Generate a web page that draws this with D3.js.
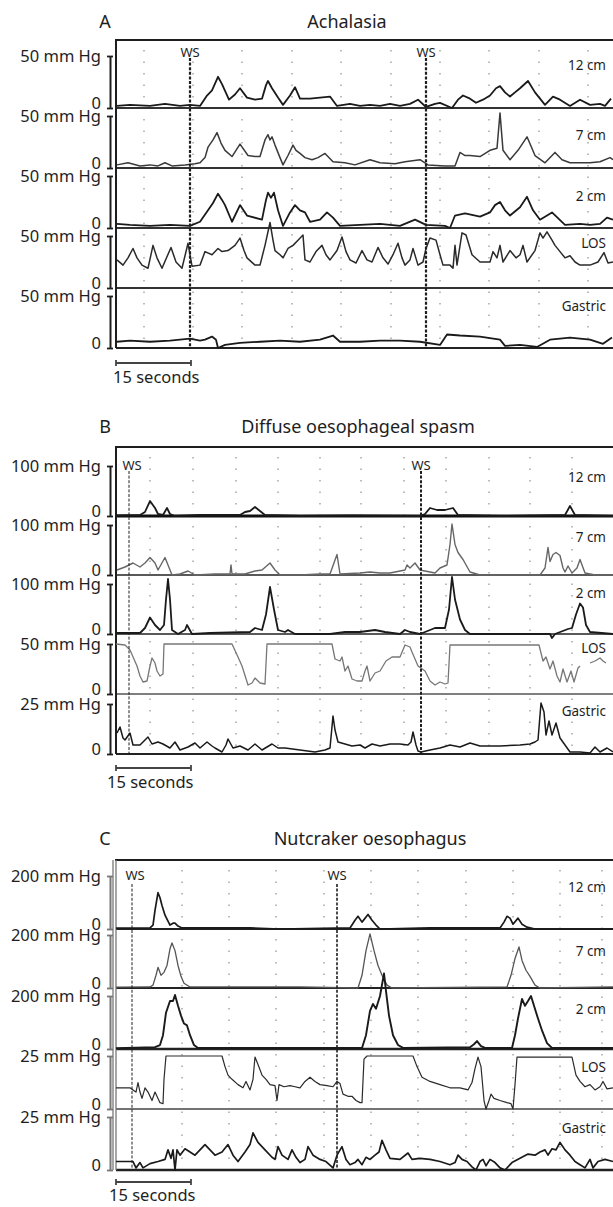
<!DOCTYPE html>
<html lang="en">
<head>
<meta charset="UTF-8">
<title>Oesophageal manometry</title>
<script src="https://cdn.jsdelivr.net/npm/d3@7"></script>
<style>
  body { margin: 0; background: #fff; }
  svg { display: block; font-family: "Noto Sans", sans-serif; }
</style>
</head>
<body>
<svg id="chart"></svg>
<script>
// ---- data: time in seconds, pressure in mm Hg ----
const panelKeys = ['A', 'B', 'C'];
const panelTitles = ['Achalasia', 'Diffuse oesophageal spasm', 'Nutcraker oesophagus'];
const channelLabels = ['12 cm', '7 cm', '2 cm', 'LOS', 'Gastric'];
const fullScaleA = [50, 50, 50, 50, 50];
const fullScaleB = [100, 100, 100, 50, 25];
const fullScaleC = [200, 200, 200, 25, 25];
const swallowA = [14.8, 62];
const swallowB = [2.6, 61];
const swallowC = [3.2, 44.2];
const gridA = [5.6, 15.4, 25.2, 35.2, 45, 55, 64.8, 74.6, 84.6, 94.4];
const gridB = [6.8, 15.4, 24, 32.4, 40.8, 49, 57.6, 66, 74.6, 82.8, 91.2];
const gridC = [13.2, 22.6, 32, 41.6, 51, 60.4, 70, 79.4, 88.8, 97.2];
const scaleBarSeconds = 15;

// A: achalasia
const a12 = [[0.2,2],[2.8,3],[6.8,2],[9.8,4],[12.8,2],[14.8,3],[16.8,2],[18.2,12],[19.2,17],[20.4,30],[21.2,23],[22.6,8],[23.8,13],[24.8,19],[26.2,10],[27.8,8],[29.2,9],[30,22],[30.4,26],[31.2,19],[32.4,10],[33.4,3],[34.8,12],[35.8,20],[36.8,9],[38.8,9],[40.8,10],[42.8,11],[44.2,2],[46.8,4],[48.8,2],[50.8,3],[52.8,2],[54.8,4],[56.8,2],[58.8,4],[60.4,8],[62,1],[63.8,4],[64.8,5],[67.2,0],[68.4,8],[69.4,12],[70.8,9],[72,5],[73.4,8],[74.8,12],[76,19],[76.8,21],[77.8,15],[78.8,11],[79.8,15],[80.8,19],[82.4,26],[83.8,15],[85.8,3],[87.4,11],[88.8,8],[90.8,2],[92.8,8],[94.8,3],[96.8,4],[97.8,2],[99,9]];
const a7 = [[0.2,3],[2.4,5],[4.8,2],[6.8,3],[8.4,2],[9.8,5],[11.2,2],[13.8,3],[15.8,4],[16.8,5],[17.8,10],[18.4,20],[19.4,27],[20.2,34],[21,24],[21.8,17],[23.2,11],[24.8,23],[26.4,12],[27.8,11],[28.8,11],[29.8,27],[30.4,32],[30.8,27],[31.2,30],[31.8,22],[32.8,10],[33.4,3],[34.4,12],[35.4,22],[36,17],[36.8,14],[37.8,10],[39.2,8],[40.4,10],[41.8,14],[43.4,6],[45.8,5],[47.8,3],[50.8,8],[52.8,5],[55.8,4],[57.8,6],[60.8,8],[62.4,3],[65.8,2],[67.8,2],[68.8,15],[69.8,12],[70.8,12],[72.8,11],[74.8,17],[76.2,19],[76.8,53],[77.4,17],[78.8,8],[80.4,17],[82.2,30],[83.8,12],[85.8,5],[87.8,15],[89.2,8],[90.8,5],[94.8,5],[96.8,6],[98.8,10],[99.4,8]];
const a2 = [[0.2,4],[2.8,3],[6.8,2],[10.8,3],[14.8,2],[16.8,6],[18.4,17],[19.4,24],[20.4,33],[21.2,27],[21.8,22],[23.2,6],[24.8,22],[26.2,12],[29.2,8],[30,27],[30.4,34],[31,29],[31.6,34],[32.4,17],[33.4,2],[34.8,15],[35.8,22],[36.8,17],[37.8,15],[38.8,6],[40.8,8],[42.2,15],[43.4,10],[44.8,2],[48.8,3],[52.8,4],[56.8,2],[59.8,8],[62,3],[65.8,2],[66.8,0],[67.8,12],[69.8,14],[72.8,11],[74.8,15],[75.8,22],[76.8,25],[77.8,17],[78.8,12],[80.8,20],[82.2,30],[83.4,17],[84.8,8],[87.2,15],[89.8,3],[92.8,4],[94.8,3],[96.8,4],[98.2,10],[99.4,8]];
const aLos = [[0.2,27],[1.4,22],[2.4,29],[3.4,38],[4.2,29],[5.2,22],[6.4,19],[7.4,41],[8.2,29],[9.2,19],[11,39],[12,25],[13.2,19],[14.4,43],[15.2,21],[16.8,22],[17.8,35],[19.2,32],[20.4,38],[21.2,35],[22.4,36],[23.8,41],[24.8,48],[25.6,36],[26.2,29],[27.8,22],[28.8,22],[29.8,41],[30.8,63],[31.4,46],[31.8,36],[32.8,32],[33.4,29],[34.4,38],[35.4,41],[36.4,46],[37.4,51],[37.8,27],[38.8,25],[40,35],[41.2,41],[42,32],[42.8,27],[44.2,36],[45.2,49],[46,35],[46.8,27],[48,24],[49.2,36],[50.2,27],[51.2,25],[52.4,39],[53.4,29],[54.4,23],[55.4,32],[56.4,43],[57.2,29],[57.8,22],[58.8,27],[59.4,38],[60.4,22],[61.4,25],[62,38],[62.8,48],[64,46],[64.8,32],[65.4,22],[66.8,22],[67.4,19],[67.8,41],[68.2,22],[69.2,53],[70,51],[71.2,32],[72.8,25],[74.8,25],[75.4,35],[76.2,29],[76.8,41],[77.4,25],[78.8,36],[80,29],[80.8,32],[81.4,41],[82.2,25],[83.8,36],[84.8,53],[85.4,48],[86.2,54],[87.2,46],[87.8,41],[88.8,35],[89.8,29],[90.8,31],[91.8,25],[92.8,22],[94.8,22],[96.4,25],[97.6,34],[98.4,24],[99.4,25]];
const aGas = [[0.2,6],[2.8,7],[6.8,6],[10.8,7],[14.8,9],[16.8,7],[17.8,8],[19.2,11],[20,8],[20.4,0],[21.8,3],[24.8,5],[28.8,6],[32.8,7],[36.8,6],[40.8,8],[43.4,12],[44.8,6],[48.8,6],[52.8,7],[56.8,7],[60.8,6],[64.8,3],[66.2,13],[68.8,12],[72.8,11],[76.8,8],[77.8,2],[80.8,3],[84.2,1],[86.8,8],[90.8,10],[94.8,8],[97.4,4],[99.2,10]];

// B: diffuse oesophageal spasm
const b12 = [[0,1],[4.8,2],[5.8,8],[6.8,30],[7.8,16],[8.4,4],[9.4,2],[10.2,16],[10.8,4],[11.8,0],[16.8,2],[24.8,2],[25.8,8],[26.8,10],[27.8,18],[28.8,10],[29.8,2],[36.8,0],[46.8,1],[60.8,0],[61.8,4],[62.8,16],[64.2,12],[65.8,12],[67.4,16],[68.4,2],[76.8,0],[89.8,2],[90.8,20],[91.8,2],[99.4,0]];
const b7 = [[0.2,10],[1.8,16],[3.4,24],[4.8,16],[5.8,24],[6.8,35],[7.8,24],[8.4,10],[9.8,35],[10.4,20],[11.2,0],[12.8,2],[14.4,8],[15.8,0],[19.8,2],[22.8,2],[23,20],[23.2,2],[25.8,2],[27.8,8],[29.2,10],[30.8,24],[31.8,10],[32.8,0],[36.8,0],[40.8,2],[42.8,2],[44.2,41],[44.8,2],[48.8,4],[50.8,6],[52.8,4],[54.8,4],[57.8,10],[58.2,20],[58.8,14],[59.8,24],[60.8,10],[63.8,4],[64.8,14],[66.2,20],[66.8,61],[67.2,102],[67.8,61],[68.4,45],[69.4,31],[70.8,6],[72.8,0],[84.8,0],[85.8,14],[86.4,55],[86.8,27],[87.4,41],[88,45],[88.8,39],[89.4,14],[89.8,6],[90.4,18],[91.2,4],[92.2,14],[92.8,31],[93.8,4],[95.8,0],[99.4,0]];
const b2 = [[0.2,2],[4.8,2],[5.8,12],[6.8,33],[7.8,18],[8.8,8],[9.6,18],[10,69],[10.4,110],[10.8,69],[11.2,8],[12.4,0],[13.8,8],[14.2,18],[15.2,0],[18.8,2],[26.8,4],[27.8,12],[29.2,8],[30,39],[30.8,94],[31.6,49],[32.4,8],[33.8,4],[34.4,8],[35.8,0],[42.8,0],[45.8,4],[48.8,4],[51.8,8],[53.8,4],[56.8,0],[57.8,8],[58.8,4],[60.8,0],[63.8,12],[65.8,12],[66.6,49],[67.2,114],[67.8,69],[68.8,29],[69.8,8],[70.8,0],[86.8,0],[87.2,-8],[87.8,0],[90.4,10],[91.2,12],[92,39],[92.8,61],[93.4,53],[94,18],[94.8,4],[99.4,0]];
const bLos = [[0,50],[1.8,49],[2.8,44],[4.2,28],[4.8,18],[5.4,12],[6.2,13],[6.8,28],[7.2,36],[7.8,31],[8.2,23],[8.8,18],[9.4,20],[9.6,50],[23.2,50],[24.4,37],[25.2,28],[26.4,9],[27.2,11],[27.8,16],[28.8,11],[29.8,10],[30.2,50],[43.2,50],[43.8,35],[44.8,33],[45.2,37],[45.8,23],[46.4,28],[47.2,15],[48.2,13],[49.2,13],[49.8,23],[50.2,28],[50.8,13],[51.8,21],[52.8,23],[54,33],[55.2,37],[56.8,37],[57.8,49],[58.8,47],[59.2,42],[59.8,35],[60.4,28],[61.8,23],[62.8,13],[63.8,9],[64.8,12],[65.8,10],[66.4,11],[66.8,49],[84.6,49],[85.4,33],[86,37],[86.8,25],[87.4,33],[88.2,18],[88.8,12],[89.4,25],[90.2,12],[91,23],[91.6,12],[92.4,26],[92.8,28],[93.6,null],[94.8,31],[95.8,33],[96.8,36],[97.4,33],[98,31]];
const bGas = [[0.2,10.5],[0.8,13.5],[1.4,8],[1.8,7],[2.8,10.5],[3.4,4.5],[4.8,4.5],[6.4,8.5],[7.2,5],[8.4,6],[9.4,5],[10.8,3],[11.8,6],[12.8,2],[14.4,3.5],[15.8,5.5],[16.8,3],[18.2,6],[19.2,4],[19.8,3],[21.2,1],[22,4.5],[22.4,7.5],[23.4,3],[24.8,4],[26.4,2],[27.8,5],[29.2,2],[31.2,5],[32.4,3],[33.8,3],[36.8,2],[39.8,1],[41.8,2],[42.8,3],[43.4,19],[43.8,12],[44.4,6],[45.8,5],[47.2,4],[48.8,4.5],[49.8,3],[51.2,5],[52.8,4],[54.8,5],[56.8,5],[58.4,4.5],[59,6],[59.4,11],[60,4.5],[60.4,1.5],[61,1],[62.8,2],[64.8,3],[66.8,4.5],[68.8,3.5],[70.8,5.5],[72.8,4],[76.8,4],[80.8,4.5],[82.8,5],[83.8,6],[84.4,7],[85,25.5],[85.6,21],[86,9.5],[86.6,16.5],[87.2,9.5],[88,15.5],[88.8,8],[89.8,4.5],[90.8,1],[92.8,1],[94.8,0.5],[95.8,3.5],[96.8,1],[98.2,3],[99.4,1]];

// C: nutcracker oesophagus
const c12 = [[0,3],[6.8,4],[7.4,15],[7.8,70],[8.4,137],[8.8,118],[9.2,89],[9.8,52],[10.8,15],[11.4,22],[11.8,22],[12.4,11],[13.2,4],[16.8,4],[26.8,4],[32.8,0],[46.8,4],[47.8,33],[48.4,48],[49.2,26],[50.4,55],[51.2,33],[52,15],[52.8,0],[62.8,4],[76.8,4],[77.6,26],[78.2,48],[78.8,41],[79.4,18],[80.4,41],[81.2,18],[82.2,7],[83.8,0],[99.4,0]];
const c7 = [[0,3],[6.8,4],[7.4,11],[8,48],[8.4,78],[9,48],[9.6,59],[10.2,85],[10.8,148],[11.2,170],[11.8,141],[12.4,85],[13,44],[13.6,18],[14.8,4],[36.8,4],[48.4,0],[49.2,48],[50,141],[50.8,204],[51.6,141],[52.4,85],[53.2,48],[54.2,11],[55.2,0],[78.2,4],[79,48],[79.8,111],[80.6,155],[81.2,104],[82,67],[82.8,44],[83.8,11],[84.8,0],[99.4,4]];
const c2 = [[0,3],[7.8,7],[8.8,15],[9.4,52],[10,137],[10.8,181],[11.4,181],[11.8,204],[12.4,163],[13,126],[13.6,96],[14.2,89],[14.8,52],[15.6,15],[16.4,4],[36.8,4],[49.2,4],[50,52],[50.8,144],[51.4,170],[52,152],[52.8,200],[53.6,285],[54,218],[54.6,126],[55.4,52],[56.4,15],[57.4,4],[70.8,7],[71.6,18],[72.2,30],[73,11],[73.8,4],[79.2,4],[79.8,52],[80.4,115],[81.2,189],[81.8,163],[82.4,181],[83,200],[83.6,163],[84.4,115],[85.2,70],[86.2,22],[87.2,4],[99.4,4]];
const cLos = [[0,10],[2.8,10],[3.4,9],[4,8],[4.4,12.5],[4.8,8],[5.2,5],[5.8,10],[6.4,8],[7.2,4],[7.8,8],[8.4,5],[8.8,3],[9.4,2.5],[9.6,14],[10,25],[21.2,25],[21.8,20],[22.4,16],[23.2,14],[24.4,11.5],[25.4,10],[26,13],[26.8,9],[27.4,14],[27.8,24.5],[28.4,21],[29.2,16],[30,14],[30.8,11.5],[31.8,11],[32.2,4],[32.6,11.5],[33.6,10.5],[34.8,11],[35.8,10.5],[36.8,10],[37.8,13],[38.8,15],[39.8,13],[40.8,11.5],[42.2,11],[43.4,10.5],[44.2,13],[44.8,12],[45.4,7],[46.4,6],[47.2,6],[48,4],[48.8,3],[49.2,3],[49.6,23.5],[50.2,25],[59.4,25],[60.2,20],[61.2,15],[62.8,13],[64.8,11.5],[66.8,10],[68.8,10],[70.4,9],[71.2,12.5],[71.8,19],[72.4,24.5],[73,20],[73.6,4],[74,0],[74.6,4],[75,7],[75.6,5],[76.8,4],[78.2,3],[79,2.5],[79.4,0],[79.8,11.5],[80.2,24.5],[91.2,24.5],[92,16],[92.8,13],[93.8,10.5],[94.8,11.5],[95.8,9],[96.8,10.5],[97.4,13],[98.2,9.5],[99.4,10]];
const cGas = [[0,4],[3.4,4],[4,1],[4.8,3.5],[5.4,1],[6.8,3],[8.4,4],[9.8,5],[10.4,9.5],[11,5.5],[11.4,9.5],[11.8,0],[12.2,9.5],[12.8,7],[13.8,10],[14.8,8.5],[15.8,7],[16.8,9.5],[17.8,12],[18.8,9.5],[19.8,7],[21.2,8.5],[22.4,12],[23.4,7],[24.4,4],[25.8,8.5],[26.8,12],[27.4,17.5],[28.4,13],[29.8,9.5],[31.2,6],[31.8,5],[32.4,11],[33.2,7],[34.4,5],[35.2,9.5],[36,6],[36.8,3.5],[37.8,5],[38.4,11],[39.4,7],[40.8,5],[42,4],[43.4,1],[44.2,7],[45.2,11],[46,5],[46.8,2.5],[47.8,3.5],[48.4,5],[49.2,2.5],[50,6],[50.8,5],[51.8,7],[52.6,8.5],[53.2,14],[54,9.5],[54.8,5.5],[56.8,5],[58.4,8],[59.2,5],[60.8,5.5],[62.8,5],[64.8,4],[66.8,2.5],[67.8,3.5],[68.4,7],[69.2,5],[70.2,4],[71.2,1.5],[72,0],[72.8,4],[73.4,5],[74,2],[74.8,5],[75.8,3.5],[76.8,1],[77.8,0],[79.2,3.5],[80.8,5.5],[82.4,7.5],[83.8,7],[84.8,8.5],[85.8,9.5],[86.4,7],[87.2,10],[88,9.5],[88.8,13],[89.8,9.5],[90.8,7],[91.8,4],[92.8,2.5],[93.8,1],[94.8,5],[95.4,1],[96.4,4],[97.8,5],[99.4,4]];

// ---- layout ----
const width = 613, height = 1207;
const ink = '#1e1e1e';
const svg = d3.select('#chart').attr('width', width).attr('height', height);
const x = d3.scaleLinear().domain([0, 100]).range([116, 616]);

const panels = [
  { key: panelKeys[0], title: panelTitles[0], titleX: 347, titleY: 28, top: 40,
    bases: [108, 168, 228, 288, 348], h: 52, full: fullScaleA,
    traces: [a12, a7, a2, aLos, aGas], ws: swallowA, grid: gridA,
    labelUp: [38, 28, 27, 40, 37], wsTop: 58, wsLabelY: 57, wsShift: [0, 0],
    wsWidth: [2.2, 2.2], traceColor: ['#1a1a1a', '#3a3a3a', '#1a1a1a', '#2a2a2a', '#1a1a1a'],
    traceWidth: [1.8, 1.5, 1.8, 1.5, 1.8], baseWidth: [2, 2, 2, 2, 2.2],
    baseColor: ['#333', '#333', '#333', '#333', '#222'], axisColor: ink,
    barY: 363, textY: 383, textX: 113 },
  { key: panelKeys[1], title: panelTitles[1], titleX: 358, titleY: 433, top: 447,
    bases: [516, 575, 634, 694, 754], h: 50, full: fullScaleB,
    traces: [b12, b7, b2, bLos, bGas], ws: swallowB, grid: gridB,
    labelUp: [34, 33, 36, 41, 38], wsTop: 471, wsLabelY: 470, wsShift: [3, 0],
    wsWidth: [1, 2], traceColor: ['#1a1a1a', '#666', '#1a1a1a', '#777', '#1a1a1a'],
    traceWidth: [1.8, 1.4, 1.8, 1.3, 1.5], baseWidth: [3, 1.5, 1.5, 1.5, 2.2],
    baseColor: ['#111', '#222', '#222', '#555', '#222'], axisColor: ink,
    barY: 768, textY: 788, textX: 107 },
  { key: panelKeys[2], title: panelTitles[2], titleX: 370, titleY: 845, top: 860,
    bases: [929, 988, 1049, 1109, 1170], h: 53, full: fullScaleC,
    traces: [c12, c7, c2, cLos, cGas], ws: swallowC, grid: gridC,
    labelUp: [37, 32, 35, 37, 37], wsTop: 884, wsLabelY: 880, wsShift: [3, 0],
    wsWidth: [1, 1.6], traceColor: ['#1a1a1a', '#555', '#1a1a1a', '#2a2a2a', '#1a1a1a'],
    traceWidth: [1.7, 1.3, 1.9, 1.2, 1.7], baseWidth: [2, 2, 2.4, 1.5, 2.4],
    baseColor: ['#222', '#222', '#222', '#444', '#222'], axisColor: '#777',
    barY: 1182, textY: 1201, textX: 109 }
];

panels.forEach(p => {
  const g = svg.append('g');
  const bottom = p.bases[p.bases.length - 1];

  g.append('text').attr('x', 105).attr('y', p.titleY).attr('text-anchor', 'middle')
    .attr('font-size', 18).attr('fill', ink).text(p.key);
  g.append('text').attr('x', p.titleX).attr('y', p.titleY).attr('text-anchor', 'middle')
    .attr('font-size', 18).attr('fill', ink).text(p.title);

  // dotted time grid
  g.selectAll('line.grid').data(p.grid).join('line').attr('class', 'grid')
    .attr('x1', d => x(d)).attr('x2', d => x(d))
    .attr('y1', p.top + 10).attr('y2', bottom)
    .attr('stroke', '#999').attr('stroke-width', 1.3).attr('stroke-dasharray', '1.5,10');

  // channel baselines
  p.bases.forEach((b, i) => {
    g.append('line').attr('x1', x(0)).attr('x2', width).attr('y1', b).attr('y2', b)
      .attr('stroke', p.baseColor[i]).attr('stroke-width', p.baseWidth[i]);
  });

  // frame
  g.append('line').attr('x1', x(0) - 1).attr('x2', width).attr('y1', p.top).attr('y2', p.top)
    .attr('stroke', ink).attr('stroke-width', 2.2);
  if (p.key === 'C') {
    [x(0) - 3, x(0)].forEach(xx => g.append('line').attr('x1', xx).attr('x2', xx)
      .attr('y1', p.top).attr('y2', bottom).attr('stroke', '#777').attr('stroke-width', 1.3));
  } else {
    g.append('line').attr('x1', x(0)).attr('x2', x(0)).attr('y1', p.top).attr('y2', bottom)
      .attr('stroke', ink).attr('stroke-width', 2);
  }

  // traces, pressure brackets and channel labels
  p.traces.forEach((tr, i) => {
    const y = d3.scaleLinear().domain([0, p.full[i]]).range([p.bases[i], p.bases[i] - p.h]);
    const line = d3.line().defined(d => d[1] != null).x(d => x(d[0])).y(d => y(d[1]));
    g.append('path').datum(tr).attr('d', line).attr('fill', 'none')
      .attr('stroke', p.traceColor[i]).attr('stroke-width', p.traceWidth[i])
      .attr('stroke-linejoin', 'round');

    const axis = d3.axisLeft(y).tickValues([0, p.full[i]])
      .tickFormat(d => d ? d + ' mm Hg' : '0')
      .tickSize(3).tickSizeOuter(0).tickPadding(6);
    const ag = g.append('g').attr('transform', 'translate(110,0)').call(axis);
    ag.select('.domain').attr('stroke', p.axisColor).attr('stroke-width', 2);
    ag.selectAll('.tick line').attr('x1', 3).attr('x2', -3)
      .attr('stroke', p.axisColor).attr('stroke-width', 1.8);
    ag.selectAll('.tick text').attr('font-size', 16.5).attr('fill', ink)
      .attr('font-family', '"Noto Sans", sans-serif')
      .attr('dy', d => d ? '0.32em' : '0.02em');

    g.append('text').attr('x', 606).attr('y', p.bases[i] - p.labelUp[i])
      .attr('text-anchor', 'end').attr('font-size', 13.5).attr('fill', ink)
      .text(channelLabels[i]);
  });

  // wet swallows
  p.ws.forEach((w, i) => {
    g.append('line').attr('x1', x(w)).attr('x2', x(w)).attr('y1', p.wsTop).attr('y2', bottom)
      .attr('stroke', ink).attr('stroke-width', p.wsWidth[i]).attr('stroke-dasharray', '3,1.6');
    g.append('text').attr('x', x(w) + p.wsShift[i]).attr('y', p.wsLabelY)
      .attr('text-anchor', 'middle').attr('font-size', 13).attr('fill', ink).text('WS');
  });

  // 15 second scale bar
  const bar = g.append('g').attr('stroke', '#444').attr('stroke-width', 1.8);
  bar.append('line').attr('x1', x(0)).attr('x2', x(scaleBarSeconds)).attr('y1', p.barY).attr('y2', p.barY);
  [0, scaleBarSeconds].forEach(s => bar.append('line').attr('x1', x(s)).attr('x2', x(s))
    .attr('y1', p.barY - 3).attr('y2', p.barY + 3));
  g.append('text').attr('x', p.textX).attr('y', p.textY).attr('font-size', 16.5)
    .attr('fill', ink).text(scaleBarSeconds + ' seconds');
});
</script>
</body>
</html>
